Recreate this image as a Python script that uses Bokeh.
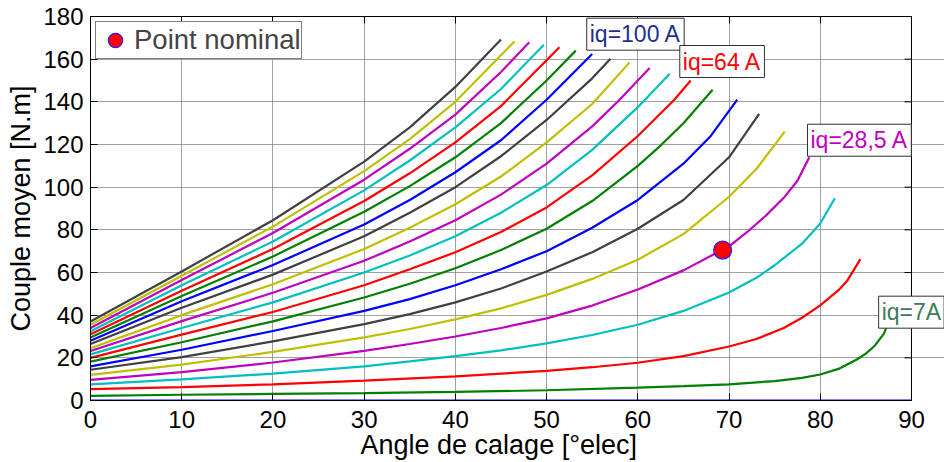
import math
from bokeh.plotting import figure
from bokeh.models import (Range1d, LinearAxis, FixedTicker, Label, Legend, LegendItem, Span, Title)
from bokeh.embed import file_html
from bokeh.resources import INLINE

# ---- data (angle in deg elec, torque in N.m) ----
iq_values = [0, 7, 14, 21.5, 28.5, 35.7, 43, 50, 57, 64, 71.4, 78.6, 86, 93, 100,
             107, 114, 121, 128.5, 136, 143]

ang_00 = [0, 90]
cpl_00 = [0, 0]
ang_01 = [0, 10, 20, 30, 40, 50, 60, 65, 70, 75, 78, 80, 82, 84, 85, 86, 87, 87.6]
cpl_01 = [2.2, 2.7, 3.1, 3.5, 4.0, 4.8, 6.0, 6.7, 7.6, 9.1, 10.6, 12.2, 14.8, 19.2, 22, 25.8, 31.5, 38]
ang_02 = [0, 10, 20, 30, 40, 50, 55, 60, 65, 70, 73, 76, 78, 80, 82, 83, 84.4]
cpl_02 = [5.3, 6.3, 7.6, 9.3, 11.3, 13.9, 15.6, 17.7, 20.8, 25.3, 28.8, 34, 38.8, 44.6, 51.7, 56.4, 66.3]
ang_03 = [0, 10, 20, 30, 35, 40, 45, 50, 55, 60, 65, 70, 73, 75, 78, 80, 81.6]
cpl_03 = [7.6, 9.9, 12.6, 16, 18.3, 20.8, 23.5, 26.8, 30.7, 35.5, 42, 50.6, 57.5, 63.4, 73.5, 83, 94.8]
ang_04 = [0, 10, 20, 30, 35, 40, 45, 50, 55, 60, 65, 70, 72, 74, 76, 77.5, 78.8]
cpl_04 = [9.7, 13.3, 17.8, 23.3, 26.5, 30, 34, 38.5, 44.5, 52, 61, 72.3, 79, 86.5, 95, 103, 114]
ang_05 = [0, 10, 20, 30, 35, 40, 45, 50, 55, 60, 65, 70, 73, 76.1]
cpl_05 = [12, 16.8, 22.8, 29.6, 33.5, 38, 43.2, 49.5, 57, 66, 78, 95.5, 108.5, 126]
ang_06 = [0, 10, 20, 30, 35, 40, 45, 50, 55, 60, 65, 70, 73.3]
cpl_06 = [14.4, 20.3, 27.7, 35.8, 40.5, 46, 52.5, 60.5, 69.5, 80.5, 94, 114, 134.4]
ang_07 = [0, 10, 20, 30, 35, 40, 45, 50, 55, 60, 65, 68, 70.9]
cpl_07 = [16, 23.8, 32.6, 42, 47.5, 54, 61.5, 70, 81, 94, 111, 124, 141]
ang_08 = [0, 10, 20, 30, 35, 40, 45, 50, 55, 60, 62.5, 65, 68.2]
cpl_08 = [18.2, 27.3, 37.1, 48.3, 54.7, 62, 70.5, 80.5, 93.5, 110, 119.5, 130, 145.7]
ang_09 = [0, 10, 20, 30, 35, 40, 45, 50, 55, 60, 64, 65.8]
cpl_09 = [20, 30.9, 41.5, 54, 61.5, 69.5, 79, 90.5, 105.5, 124, 141, 150]
ang_10 = [0, 10, 20, 30, 35, 40, 45, 50, 55, 60, 63.5]
cpl_10 = [21.6, 34, 46, 60, 68, 77, 88, 101, 117.5, 137.5, 153.2]
ang_11 = [0, 10, 20, 30, 35, 40, 45, 50, 55, 58, 61.3]
cpl_11 = [23.2, 37.2, 50.5, 65.5, 74.5, 84.5, 96.5, 111, 128.5, 141, 155.9]
ang_12 = [0, 10, 20, 30, 35, 40, 45, 50, 55, 59.1]
cpl_12 = [24.5, 40, 54.5, 71, 81, 92, 105, 121, 139, 158.5]
ang_13 = [0, 10, 20, 30, 35, 40, 45, 50, 55, 57]
cpl_13 = [26.5, 43.5, 59, 77, 88, 100, 114.5, 131.5, 151, 160.2]
ang_14 = [0, 10, 20, 30, 35, 40, 45, 50, 55]
cpl_14 = [28, 46.5, 63.5, 82.5, 94, 107, 122, 141, 162.4]
ang_15 = [0, 10, 20, 30, 35, 40, 45, 50, 53.2]
cpl_15 = [29.5, 49, 67.5, 88.5, 100.5, 114, 130, 150, 164]
ang_16 = [0, 10, 20, 30, 35, 40, 45, 50, 51.4]
cpl_16 = [31, 51.5, 71, 93.5, 106.5, 121, 138, 159.5, 165.6]
ang_17 = [0, 10, 20, 30, 35, 40, 45, 49.7]
cpl_17 = [32.5, 54, 74.5, 98.5, 112.5, 128, 146, 166.8]
ang_18 = [0, 10, 20, 30, 35, 40, 45, 48.1]
cpl_18 = [34, 56.5, 78.5, 103.5, 118, 134, 154, 167.9]
ang_19 = [0, 10, 20, 30, 35, 40, 46.5]
cpl_19 = [35.5, 58.5, 81.5, 107.5, 122.5, 140, 168.4]
ang_20 = [0, 10, 20, 30, 35, 40, 45]
cpl_20 = [37, 60.5, 84.5, 112, 128, 147, 169.2]

angles = [ang_00, ang_01, ang_02, ang_03, ang_04, ang_05, ang_06, ang_07, ang_08, ang_09,
          ang_10, ang_11, ang_12, ang_13, ang_14, ang_15, ang_16, ang_17, ang_18, ang_19, ang_20]
couples = [cpl_00, cpl_01, cpl_02, cpl_03, cpl_04, cpl_05, cpl_06, cpl_07, cpl_08, cpl_09,
           cpl_10, cpl_11, cpl_12, cpl_13, cpl_14, cpl_15, cpl_16, cpl_17, cpl_18, cpl_19, cpl_20]

nominal_angle = [69.3]
nominal_couple = [70.5]

x_ticks = [0, 10, 20, 30, 40, 50, 60, 70, 80, 90]
y_ticks = [0, 20, 40, 60, 80, 100, 120, 140, 160, 180]

curve_labels = ["iq=100 A", "iq=64 A", "iq=28,5 A", "iq=7A"]
label_x = [54.4, 64.6, 78.6, 86.4]
label_y = [179.2, 166.4, 129.5, 48.9]
label_colors = ["#1f2f8f", "#ff0000", "#c000c0", "#3f7a5c"]

# MATLAB classic colour order b g r c m y k
color_cycle = ["#0000ff", "#008000", "#ff0000", "#00bfbf", "#bf00bf", "#bfbf00", "#404040"]

FONT = "Liberation Sans"
X_MAX = x_ticks[-1]
Y_MAX = y_ticks[-1]

# the frame is widened a little past 90 so that the "iq=7A" box can overhang it
p = figure(width=944, height=462, output_backend="svg", toolbar_location=None,
           x_range=Range1d(0, 93.62), y_range=Range1d(0, Y_MAX),
           min_border_left=90, min_border_top=16, min_border_right=0, min_border_bottom=62)
p.outline_line_color = None

for k, (xs, ys) in enumerate(zip(angles, couples)):
    p.line(xs, ys, line_color=color_cycle[k % 7], line_width=2.2)

pt = p.scatter(nominal_angle, nominal_couple, size=18, fill_color="#ff0000",
               line_color="#2020ff", line_width=1.2)

# axes styling
for ax in (p.xaxis[0], p.yaxis[0]):
    ax.major_tick_in = 7
    ax.major_tick_out = 0
    ax.minor_tick_in = 0
    ax.minor_tick_out = 0
    ax.axis_line_color = "black"
    ax.major_tick_line_color = "black"
    ax.major_label_text_font = FONT
    ax.major_label_text_font_size = "24px"
    ax.major_label_text_color = "black"
    ax.axis_label_text_font = FONT
    ax.axis_label_text_font_size = "27px"
    ax.axis_label_text_font_style = "normal"
    ax.axis_label_text_color = "black"

p.xaxis[0].ticker = FixedTicker(ticks=x_ticks)
p.yaxis[0].ticker = FixedTicker(ticks=y_ticks)
p.xaxis[0].bounds = (0, X_MAX)
p.yaxis[0].axis_label = "Couple moyen [N.m]"
p.xaxis[0].major_label_standoff = 10
p.yaxis[0].major_label_standoff = 7
p.yaxis[0].axis_label_standoff = 4

# x-axis title centred under the 0..90 span (the frame itself runs a little further)
p.add_layout(Title(text="Angle de calage [°elec]", align="left", offset=270,
                   text_font=FONT, text_font_size="27px", text_font_style="normal",
                   text_color="black", standoff=-6), "below")

top_axis = LinearAxis(ticker=FixedTicker(ticks=x_ticks), bounds=(0, X_MAX),
                      major_tick_in=7, major_tick_out=0, minor_tick_in=0, minor_tick_out=0,
                      major_label_text_font_size="0px", major_label_standoff=0,
                      axis_line_color="black")
p.add_layout(top_axis, "above")

# right frame edge at 90 with inward ticks
p.add_layout(Span(location=X_MAX, dimension="height", line_color="black", line_width=1))
p.ray(x=[X_MAX] * len(y_ticks), y=y_ticks, length=7, length_units="screen",
      angle=math.pi, line_color="black", line_width=1)

p.xgrid.ticker = FixedTicker(ticks=x_ticks)
p.ygrid.ticker = FixedTicker(ticks=y_ticks)
p.ygrid.bounds = (0, X_MAX)
p.grid.grid_line_color = "#8a8a8a"
p.grid.grid_line_alpha = 0.8
p.grid.grid_line_width = 1

for txt, lx, ly, lc in zip(curve_labels, label_x, label_y, label_colors):
    p.add_layout(Label(x=lx, y=ly, text=txt, text_color=lc, text_font=FONT,
                       text_font_size="23px", text_align="left", text_baseline="top",
                       background_fill_color="white", border_line_color="#303030",
                       border_line_width=1, padding=3))

legend = Legend(items=[LegendItem(label="Point nominal", renderers=[pt])],
                location="top_left", margin=5, padding=0, spacing=0,
                label_text_font=FONT, label_text_font_size="27.5px",
                glyph_width=38, glyph_height=36, label_standoff=0,
                border_line_color="black", border_line_width=1.5,
                background_fill_color="white", background_fill_alpha=1)
p.add_layout(legend)

open("out.html", "w").write(file_html(p, INLINE))
